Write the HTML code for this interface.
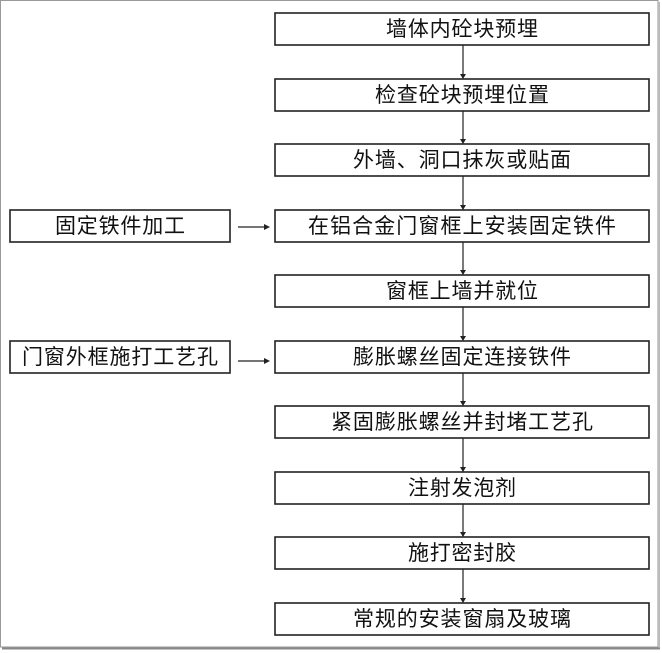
<!DOCTYPE html>
<html><head><meta charset="utf-8"><style>
html,body{margin:0;padding:0;background:#fff;}
svg{display:block}
text{font-family:"Liberation Sans","Noto Sans CJK SC","WenQuanYi Zen Hei",sans-serif;font-size:21px;fill:#111;text-anchor:middle;}
</style></head><body>
<svg width="662" height="653" viewBox="0 0 662 653" xmlns="http://www.w3.org/2000/svg">
<rect x="0" y="0" width="662" height="653" fill="#fff"/>
<rect x="0.5" y="0.5" width="657.5" height="646.5" fill="none" stroke="#999" stroke-width="1"/>
<line x1="659" y1="2" x2="659" y2="649" stroke="#bbb" stroke-width="2"/>
<line x1="2" y1="648.5" x2="660" y2="648.5" stroke="#888" stroke-width="2"/>
<g fill="#fff" stroke="#222" stroke-width="1.6">
<rect x="275" y="13" width="374" height="32"/>
<rect x="275" y="79" width="374" height="32"/>
<rect x="275" y="144" width="374" height="32"/>
<rect x="275" y="210" width="374" height="32"/>
<rect x="275" y="275" width="374" height="32"/>
<rect x="275" y="341" width="374" height="32"/>
<rect x="275" y="406" width="374" height="32"/>
<rect x="275" y="472" width="374" height="32"/>
<rect x="275" y="537" width="374" height="32"/>
<rect x="275" y="603" width="374" height="32"/>
<rect x="10" y="210" width="220" height="32"/>
<rect x="10" y="341" width="220" height="32"/>
</g>
<g stroke="#222" stroke-width="1.2" fill="none">
<line x1="463" y1="45" x2="463" y2="78"/>
<line x1="463" y1="111" x2="463" y2="143"/>
<line x1="463" y1="176" x2="463" y2="209"/>
<line x1="463" y1="242" x2="463" y2="274"/>
<line x1="463" y1="307" x2="463" y2="340"/>
<line x1="463" y1="373" x2="463" y2="405"/>
<line x1="463" y1="438" x2="463" y2="471"/>
<line x1="463" y1="504" x2="463" y2="536"/>
<line x1="463" y1="569" x2="463" y2="602"/>
<line x1="238" y1="227" x2="268" y2="227"/>
<line x1="238" y1="361" x2="268" y2="361"/>
</g>
<g fill="#222">
<polygon points="460,74 466,74 463,79"/>
<polygon points="460,139 466,139 463,144"/>
<polygon points="460,205 466,205 463,210"/>
<polygon points="460,270 466,270 463,275"/>
<polygon points="460,336 466,336 463,341"/>
<polygon points="460,401 466,401 463,406"/>
<polygon points="460,467 466,467 463,472"/>
<polygon points="460,532 466,532 463,537"/>
<polygon points="460,598 466,598 463,603"/>
<polygon points="264,224 264,230 270,227"/>
<polygon points="264,358 264,364 270,361"/>
</g>
<text x="462" y="36" textLength="152">墙体内砼块预埋</text>
<text x="462" y="102" textLength="174">检查砼块预埋位置</text>
<text x="462" y="167" textLength="218">外墙、洞口抹灰或贴面</text>
<text x="462" y="233" textLength="308">在铝合金门窗框上安装固定铁件</text>
<text x="462" y="298" textLength="152">窗框上墙并就位</text>
<text x="462" y="364" textLength="218">膨胀螺丝固定连接铁件</text>
<text x="462" y="429" textLength="262">紧固膨胀螺丝并封堵工艺孔</text>
<text x="462" y="495" textLength="108">注射发泡剂</text>
<text x="462" y="560" textLength="108">施打密封胶</text>
<text x="462" y="626" textLength="218">常规的安装窗扇及玻璃</text>
<text x="120" y="233" textLength="130">固定铁件加工</text>
<text x="120" y="364" textLength="196">门窗外框施打工艺孔</text>
</svg>
</body></html>
